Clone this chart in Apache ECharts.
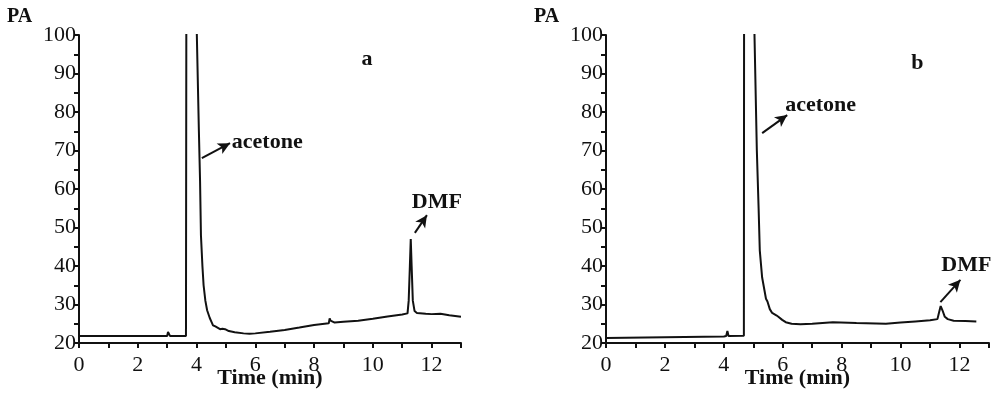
<!DOCTYPE html>
<html><head><meta charset="utf-8">
<script src="https://cdn.jsdelivr.net/npm/echarts@6/dist/echarts.min.js"></script>
<style>html,body{margin:0;padding:0;background:#fff}#c{width:1000px;height:396px}</style>
</head><body><div id="c"></div>
<script>
// ---- data ----
const timeA = [0, 2.0, 3.0, 3.03, 3.06, 3.1, 3.64, 3.65, 3.66, 4.0, 4.01, 4.08, 4.12, 4.15, 4.2, 4.24, 4.3, 4.36, 4.45, 4.52, 4.56, 4.6, 4.64, 4.7, 4.8, 4.88, 4.92, 4.97, 5.1, 5.3, 5.6, 5.8, 6.0, 6.5, 7.0, 7.5, 8.0, 8.5, 8.53, 8.56, 8.6, 8.7, 9.0, 9.5, 10.0, 10.5, 11.0, 11.18, 11.22, 11.26, 11.29, 11.32, 11.36, 11.42, 11.5, 11.8, 12.0, 12.3, 12.6, 13.0];
const signalA = [21.8, 21.8, 21.8, 22.9, 22.6, 21.8, 21.8, 21.8, 150, 150, 100, 75, 62, 48, 40, 35, 31, 28.5, 26.5, 25.3, 24.6, 25.0, 24.3, 23.9, 23.6, 23.7, 24.2, 23.6, 23.1, 22.8, 22.5, 22.4, 22.5, 22.9, 23.4, 24.0, 24.7, 25.1, 26.4, 25.8, 25.3, 25.3, 25.5, 25.8, 26.3, 26.9, 27.4, 27.7, 31, 40, 47, 40, 31, 28.3, 27.8, 27.6, 27.5, 27.6, 27.2, 26.8];
const timeB = [0, 2.0, 4.0, 4.08, 4.12, 4.16, 4.68, 4.69, 5.02, 5.04, 5.12, 5.18, 5.22, 5.3, 5.43, 5.48, 5.52, 5.56, 5.64, 5.7, 5.78, 5.85, 5.98, 6.1, 6.3, 6.6, 7.0, 7.7, 8.5, 9.5, 10.0, 10.5, 11.0, 11.25, 11.3, 11.36, 11.42, 11.5, 11.6, 11.8, 12.2, 12.57];
const signalB = [21.3, 21.5, 21.7, 21.8, 23.1, 21.8, 21.9, 150, 150, 100, 70, 55, 44, 37, 31.5, 30.8, 30.9, 28.8, 27.8, 27.6, 27.2, 26.8, 26.0, 25.4, 25.0, 24.9, 25.0, 25.4, 25.2, 25.0, 25.3, 25.6, 25.9, 26.2, 27.8, 29.6, 28.5, 26.8, 26.2, 25.8, 25.7, 25.6];
const xTickLabels = [0, 2, 4, 6, 8, 10, 12];
const yTickLabels = [20, 30, 40, 50, 60, 70, 80, 90, 100];
const peakNames = ['acetone', 'DMF'];
const panelLetters = ['a', 'b'];
const yAxisTitle = 'PA';
const xAxisTitle = 'Time (min)';

// annotation anchors in data units: arrow [x0,y0,x1,y1], text [x,y]
const annot = [
  { arrows: [[4.18, 68, 5.14, 71.9], [11.43, 48.6, 11.84, 53.2]],
    texts: [[5.2, 72.2, 'left'], [12.18, 56.6, 'center']], letter: [9.8, 93.8] },
  { arrows: [[5.30, 74.5, 6.15, 79.2], [11.35, 30.6, 12.03, 36.4]],
    texts: [[6.08, 81.8, 'left'], [12.23, 40.3, 'center']], letter: [10.57, 92.7] }
];

const SERIF = '"Liberation Serif","Times New Roman",serif';
const chart = echarts.init(document.getElementById('c'), null, {renderer: 'canvas'});
const grids = [
  {left: 79, top: 35, width: 382, bottom: 53, outerBoundsMode: 'none', containLabel: false},
  {left: 606, top: 35, width: 383, bottom: 53, outerBoundsMode: 'none', containLabel: false}
];

function xAx(i) {
  return {
    type: 'value', gridIndex: i, min: 0, max: 13, interval: 1,
    name: xAxisTitle, nameLocation: 'middle', nameGap: 24, nameMoveOverlap: false,
    nameTextStyle: {fontFamily: SERIF, fontWeight: 'bold', fontSize: 22, color: '#111'},
    axisLine: {show: true, onZero: false, lineStyle: {color: '#111', width: 2}},
    axisTick: {show: true, inside: false, length: 5, lineStyle: {color: '#111', width: 2}},
    axisLabel: {fontFamily: SERIF, fontSize: 22, color: '#111', margin: 11,
      formatter: v => xTickLabels.includes(v) ? String(v) : ''},
    splitLine: {show: false}
  };
}
function yAx(i) {
  return {
    type: 'value', gridIndex: i, min: 20, max: 100, interval: 5,
    axisLine: {show: true, onZero: false, lineStyle: {color: '#111', width: 2}},
    axisTick: {show: true, inside: false, length: 5, lineStyle: {color: '#111', width: 2}},
    axisLabel: {fontFamily: SERIF, fontSize: 22, color: '#111', margin: 3,
      formatter: v => yTickLabels.includes(v) ? String(v) : ''},
    splitLine: {show: false}
  };
}
function ser(i, t, s) {
  return {
    type: 'line', xAxisIndex: i, yAxisIndex: i, clip: true,
    data: t.map((x, k) => [x, s[k]]), symbol: 'none', showSymbol: false,
    lineStyle: {color: '#111', width: 2}, silent: true,
    markLine: {
      silent: true, symbol: ['none', 'arrow'], symbolSize: [9, 12], precision: 4,
      lineStyle: {color: '#111', width: 2, type: 'solid'}, label: {show: false},
      data: annot[i].arrows.map(a => [{coord: [a[0], a[1]]}, {coord: [a[2], a[3]]}])
    }
  };
}

chart.setOption({
  animation: false,
  backgroundColor: '#fff',
  grid: grids,
  xAxis: [xAx(0), xAx(1)],
  yAxis: [yAx(0), yAx(1)],
  series: [ser(0, timeA, signalA), ser(1, timeB, signalB)]
});

const g = [];
[0, 1].forEach(i => {
  const conv = p => chart.convertToPixel({xAxisIndex: i, yAxisIndex: i}, p);
  annot[i].texts.forEach((tx, k) => {
    const p = conv([tx[0], tx[1]]);
    g.push({type: 'text', x: p[0], y: p[1], style: {text: peakNames[k], font: 'bold 22px ' + SERIF,
      fill: '#111', align: tx[2], verticalAlign: 'middle'}});
  });
  const lp = conv(annot[i].letter);
  g.push({type: 'text', x: lp[0], y: lp[1], style: {text: panelLetters[i], font: 'bold 22px ' + SERIF,
    fill: '#111', align: 'center', verticalAlign: 'middle'}});
  g.push({type: 'text', x: grids[i].left - 72, y: 17, style: {text: yAxisTitle, font: 'bold 20px ' + SERIF,
    fill: '#111', align: 'left', verticalAlign: 'middle'}});
});
chart.setOption({graphic: g});
</script>
</body></html>
